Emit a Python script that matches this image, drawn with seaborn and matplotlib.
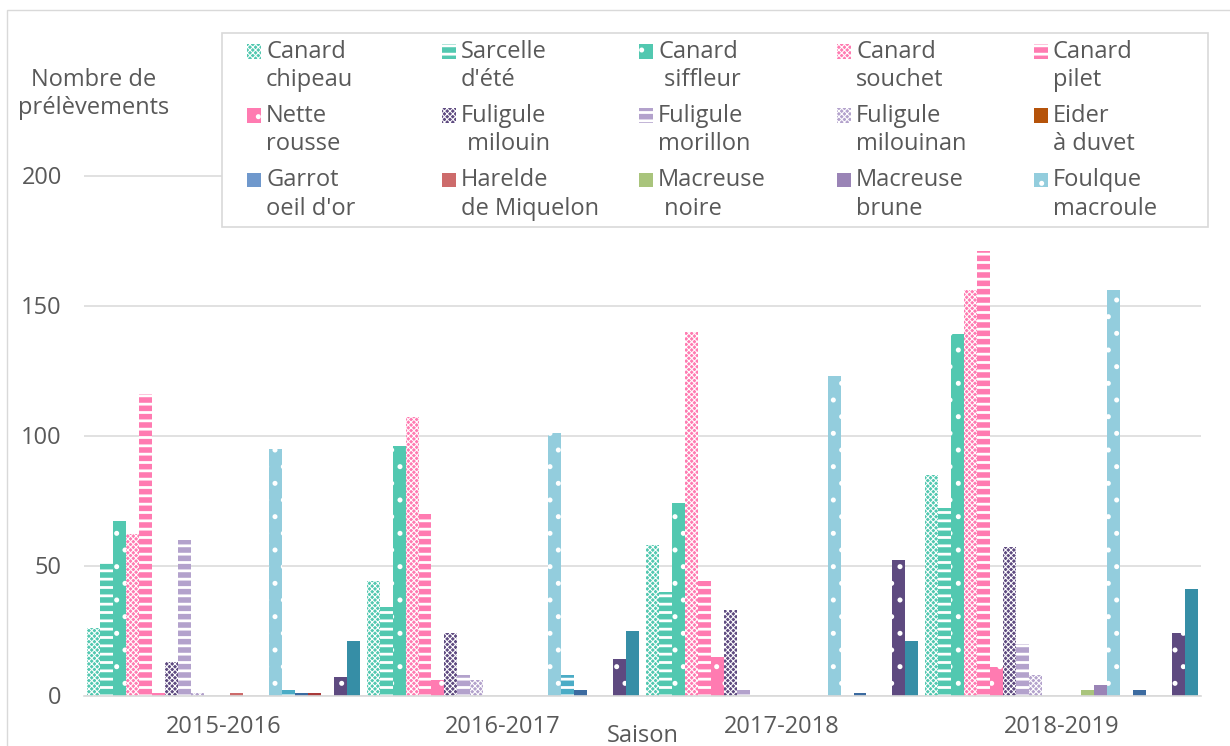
import numpy as np
import pandas as pd
import matplotlib
matplotlib.use("Agg")
import matplotlib.pyplot as plt
from matplotlib.patches import Rectangle
import seaborn as sns

# ---- data -------------------------------------------------------------
seasons = ["2015-2016", "2016-2017", "2017-2018", "2018-2019"]

species = [
    "Canard chipeau", "Sarcelle d'été", "Canard siffleur", "Canard souchet",
    "Canard pilet", "Nette rousse", "Fuligule milouin", "Fuligule morillon",
    "Fuligule milouinan", "Eider à duvet", "Garrot oeil d'or",
    "Harelde de Miquelon", "Macreuse noire", "Macreuse brune",
    "Foulque macroule",
    "Série 16", "Série 17", "Série 18", "Série 19", "Série 20", "Série 21",
]

legend_labels = [
    "Canard\nchipeau", "Sarcelle\nd'été", "Canard\n siffleur", "Canard\nsouchet",
    "Canard\npilet", "Nette\nrousse", "Fuligule\n milouin", "Fuligule\nmorillon",
    "Fuligule\nmilouinan", "Eider\nà duvet", "Garrot\noeil d'or",
    "Harelde\nde Miquelon", "Macreuse\n noire", "Macreuse\nbrune",
    "Foulque\nmacroule",
]

canard_chipeau = [26, 44, 58, 85]
sarcelle_ete = [51, 34, 40, 72]
canard_siffleur = [67, 96, 74, 139]
canard_souchet = [62, 107, 140, 156]
canard_pilet = [116, 70, 44, 171]
nette_rousse = [1, 6, 15, 11]
fuligule_milouin = [13, 24, 33, 57]
fuligule_morillon = [60, 8, 2, 20]
fuligule_milouinan = [1, 6, 0, 8]
eider_duvet = [0, 0, 0, 0]
garrot_oeil_or = [0, 0, 0, 0]
harelde_miquelon = [1, 0, 0, 0]
macreuse_noire = [0, 0, 0, 2]
macreuse_brune = [0, 0, 0, 4]
foulque_macroule = [95, 101, 123, 156]
serie_16 = [2, 8, 0, 0]
serie_17 = [1, 2, 1, 2]
serie_18 = [1, 0, 0, 0]
serie_19 = [0, 0, 0, 0]
serie_20 = [7, 14, 52, 24]
serie_21 = [21, 25, 21, 41]

values = [
    canard_chipeau, sarcelle_ete, canard_siffleur, canard_souchet, canard_pilet,
    nette_rousse, fuligule_milouin, fuligule_morillon, fuligule_milouinan,
    eider_duvet, garrot_oeil_or, harelde_miquelon, macreuse_noire,
    macreuse_brune, foulque_macroule, serie_16, serie_17, serie_18, serie_19,
    serie_20, serie_21,
]

y_ticks = [0, 50, 100, 150, 200]

# ---- styling per series ------------------------------------------------
TEAL, PINK = "#52C8B0", "#FF7BB1"
colors = [
    TEAL, TEAL, TEAL, PINK, PINK, PINK,
    "#5E4A80", "#B3A2CC", "#B3A2CC", "#B5530A", "#6F98CC", "#CD6B6B",
    "#A9C47C", "#9A84B6", "#93CDDD",
    "#4BACC6", "#3C6BA0", "#A83A3A", "#7E9A4E", "#5E4A80", "#368EA6",
]
CHECK, STRIPE, DOTS = "xxxxxx", "--", "."
hatches = [
    CHECK, STRIPE, DOTS, CHECK, STRIPE, DOTS,
    CHECK, STRIPE, CHECK, "", "", "", "", "", DOTS,
    STRIPE, "", "", "", DOTS, "",
]
hatch_lw = {CHECK: 0.75, STRIPE: 2.0, DOTS: 1.2, "": 1.0}

TEXT = "#595959"
GRID = "#D9D9D9"
FS = 17

# ---- figure -----------------------------------------------------------
sns.set_theme(style="white")
plt.rcParams["font.family"] = ["Open Sans", "DejaVu Sans"]
plt.rcParams["hatch.linewidth"] = 1.2

W, H = 1230, 746
fig = plt.figure(figsize=(W / 100, H / 100), dpi=100)


def fx(px):
    return px / W


def fy(py):
    return 1 - py / H


y_bottom, y_top = 695.5, 172.9
ax = fig.add_axes([fx(84), fy(y_bottom), fx(1201) - fx(84), (y_bottom - y_top) / H])

df = pd.DataFrame(
    [(s, sp, v) for sp, vals in zip(species, values) for s, v in zip(seasons, vals)],
    columns=["Saison", "Espèce", "Prélèvements"],
)

sns.barplot(
    data=df, x="Saison", y="Prélèvements", hue="Espèce",
    order=seasons, hue_order=species,
    palette=dict(zip(species, colors)), saturation=1,
    width=0.976, errorbar=None, legend=False,
    edgecolor="white", linewidth=0, ax=ax,
)


def apply_hatch(patch, h):
    if h:
        patch.set_hatch(h)
        if hasattr(patch, "set_hatch_linewidth"):
            patch.set_hatch_linewidth(hatch_lw[h])


for container, h in zip(ax.containers, hatches):
    for bar in container:
        apply_hatch(bar, h)

ax.set_ylim(0, 201)
ax.set_yticks(y_ticks)
ax.yaxis.grid(True, color=GRID, linewidth=1.1)
ax.set_axisbelow(True)
for side in ("left", "right", "top"):
    ax.spines[side].set_visible(False)
ax.spines["bottom"].set_color(GRID)
ax.spines["bottom"].set_linewidth(1.2)
ax.tick_params(axis="both", length=0, labelsize=FS, labelcolor=TEXT)
ax.tick_params(axis="y", pad=16)
ax.tick_params(axis="x", pad=14)

ax.set_xlabel("Saison", fontsize=FS, color=TEXT)
ax.xaxis.set_label_coords(0.5, -(736 - y_bottom) / (y_bottom - y_top))
ax.xaxis.label.set_va("center")

ax.set_ylabel("Nombre de\nprélèvements", fontsize=FS, color=TEXT,
              rotation=0, ha="center", va="center", linespacing=1.25)
ax.yaxis.set_label_coords((94 - 84) / (1201 - 84), 1 + (y_top - 94) / (y_bottom - y_top))

# ---- outer chart frame ------------------------------------------------
fig.add_artist(Rectangle((fx(7), -0.2), 1.5, fy(10) + 0.2, transform=fig.transFigure,
                         fill=False, edgecolor=GRID, linewidth=1.0, zorder=2))

# ---- legend ---------------------------------------------------------------
fig.add_artist(Rectangle((fx(222), fy(227)), fx(1208) - fx(222), (227 - 33) / H,
                         transform=fig.transFigure, facecolor="white",
                         edgecolor=GRID, linewidth=1.2, zorder=3))
col_x = [247, 442, 639, 837, 1034]
row_y = [51.5, 115.5, 180]
sq = 14
for i, label in enumerate(legend_labels):
    r, c = divmod(i, 5)
    x0, yc = col_x[c], row_y[r]
    p = Rectangle((fx(x0), fy(yc + sq / 2)), sq / W, sq / H, transform=fig.transFigure,
                  facecolor=colors[i], edgecolor="white", linewidth=0, zorder=4)
    apply_hatch(p, hatches[i])
    fig.add_artist(p)
    for k, line in enumerate(label.split("\n")):
        fig.text(fx(x0 + 19), fy(yc + 29 * k), line, fontsize=FS, color=TEXT,
                 ha="left", va="center", zorder=4)

fig.savefig("out.png", dpi=100, facecolor="white")
